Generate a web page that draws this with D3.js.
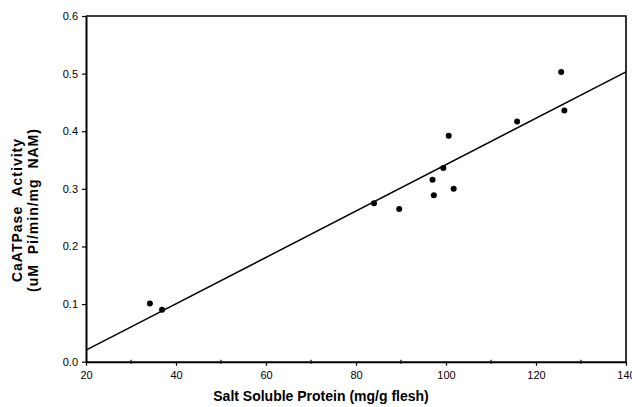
<!DOCTYPE html>
<html>
<head>
<meta charset="utf-8">
<script src="https://cdn.jsdelivr.net/npm/d3@7/dist/d3.min.js"></script>
<style>
  html, body { margin: 0; padding: 0; background: #fff; }
  svg { display: block; }
  text { font-family: "Liberation Sans", Arial, Helvetica, sans-serif; fill: #000; }
</style>
</head>
<body>
<svg id="chart" width="632" height="407"></svg>
<script>
// Salt soluble protein (mg/g flesh) vs CaATPase activity
const protein  = [34.2, 36.9, 84.0, 89.6, 97.0, 97.3, 99.4, 100.6, 101.7, 115.8, 125.6, 126.3];
const activity = [0.101, 0.090, 0.275, 0.265, 0.316, 0.289, 0.336, 0.392, 0.300, 0.417, 0.503, 0.436];

// Fitted regression line, given by its two ends
const fitX = [20, 140];
const fitY = [0.020, 0.503];

const xTicks = [20, 40, 60, 80, 100, 120, 140];
const xMinorTicks = [30, 50, 70, 90, 110, 130];
const yTicks = [0.0, 0.1, 0.2, 0.3, 0.4, 0.5, 0.6];

const xTitle = "Salt Soluble Protein (mg/g flesh)";
const yTitle = ["CaATPase  Activity", "(uM  Pi/min/mg  NAM)"];

const svg = d3.select("#chart");
const m = { left: 86, right: 626, top: 16, bottom: 361.7 };

const x = d3.scaleLinear().domain([20, 140]).range([m.left, m.right]);
const y = d3.scaleLinear().domain([0, 0.6]).range([m.bottom, m.top]);

// frame: top and right edges
svg.append("path")
  .attr("d", `M${m.left},${m.top}H${m.right}V${m.bottom}`)
  .attr("fill", "none").attr("stroke", "#000").attr("stroke-width", 1.6);

// x axis
const gx = svg.append("g").attr("transform", `translate(0,${m.bottom})`)
  .call(d3.axisBottom(x).tickValues(xTicks).tickFormat(d3.format("d")).tickSize(4).tickSizeOuter(0).tickPadding(6));
gx.select(".domain").attr("stroke-width", 2);
gx.selectAll(".tick line").attr("stroke-width", 1.2);
gx.selectAll(".tick text").style("font-size", "11px").style("font-family", "'Liberation Sans', Arial, sans-serif");

// x minor ticks
svg.append("g").selectAll("line").data(xMinorTicks).join("line")
  .attr("x1", d => x(d)).attr("x2", d => x(d))
  .attr("y1", m.bottom - 2).attr("y2", m.bottom + 2)
  .attr("stroke", "#000").attr("stroke-width", 1.2);

// y axis
const gy = svg.append("g").attr("transform", `translate(${m.left},0)`)
  .call(d3.axisLeft(y).tickValues(yTicks).tickFormat(d3.format(".1f")).tickSize(4).tickSizeOuter(0).tickPadding(4));
gy.select(".domain").attr("stroke-width", 2);
gy.selectAll(".tick line").attr("stroke-width", 1.2);
gy.selectAll(".tick text").style("font-size", "11px").style("font-family", "'Liberation Sans', Arial, sans-serif");

// regression line
svg.append("line")
  .attr("x1", x(fitX[0])).attr("y1", y(fitY[0]))
  .attr("x2", x(fitX[1])).attr("y2", y(fitY[1]))
  .attr("stroke", "#000").attr("stroke-width", 1.5);

// data points
svg.append("g").selectAll("circle").data(protein.map((p, i) => [p, activity[i]])).join("circle")
  .attr("cx", d => x(d[0])).attr("cy", d => y(d[1])).attr("r", 3)
  .attr("fill", "#000");

// axis titles
svg.append("text")
  .attr("x", 321).attr("y", 400.5)
  .attr("text-anchor", "middle")
  .style("font-size", "14px").style("font-weight", "bold")
  .text(xTitle);

const yt = svg.append("text")
  .attr("transform", "translate(0,210) rotate(-90)")
  .attr("text-anchor", "middle")
  .attr("xml:space", "preserve")
  .style("font-size", "14px").style("font-weight", "bold")
  .style("letter-spacing", "1px");
yTitle.forEach((t, i) => {
  yt.append("tspan").attr("x", 0).attr("y", 21.5 + i * 16).text(t);
});
</script>
</body>
</html>
